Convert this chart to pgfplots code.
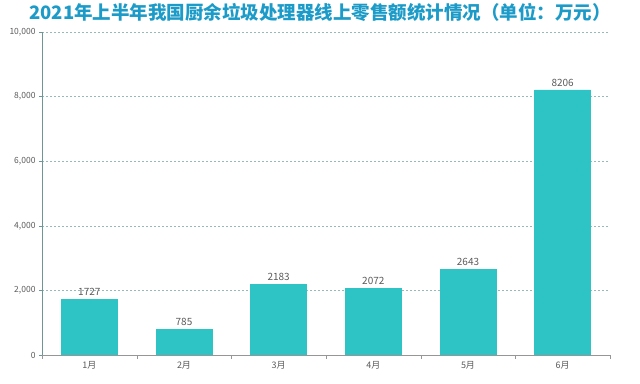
\documentclass[border=0pt]{standalone}
\usepackage{fontspec}
\setmainfont{Noto Sans CJK SC}
\usepackage{pgfplots}
\pgfplotsset{compat=1.18}
\definecolor{barc}{RGB}{46,196,198}
\definecolor{titlec}{RGB}{28,155,200}
\definecolor{gridc}{RGB}{150,185,185}
\definecolor{yaxc}{RGB}{110,150,150}
\definecolor{xaxc}{RGB}{150,150,150}
\definecolor{txtc}{RGB}{90,90,90}
\begin{document}
\begin{tikzpicture}[x=1pt,y=1pt]
\useasboundingbox (0,0) rectangle (640,383);
\node[font=\fontsize{18.5}{21}\selectfont\bfseries, text=titlec] at (320,371) {2021年上半年我国厨余垃圾处理器线上零售额统计情况（单位：万元）};
\begin{axis}[
  at={(42pt,28pt)}, anchor=south west,
  scale only axis, width=568pt, height=323pt,
  ybar, bar width=56pt,
  xmin=-0.5, xmax=5.5, ymin=0, ymax=10000,
  xtick={0,...,5},
  xticklabels={1月,2月,3月,4月,5月,6月},
  minor xtick={-0.5,0.5,...,5.5},
  major x tick style={draw=none},
  minor x tick style={xaxc},
  minor tick length=4pt,
  ytick={0,2000,...,10000},
  major tick length=3pt,
  tick align=outside,
  xtick pos=bottom, ytick pos=left,
  y tick style={yaxc},
  /pgf/number format/assume math mode=true,
  yticklabel style={/pgf/number format/1000 sep={,}, font=\fontsize{8.5}{10}\selectfont, text=txtc},
  xticklabel style={font=\fontsize{9}{10}\selectfont, text=txtc},
  scaled y ticks=false,
  ymajorgrids, grid style={gridc, dash pattern=on 2pt off 2pt, line width=0.5pt},
  axis x line*=bottom, axis y line*=left,
  x axis line style={xaxc, line width=0.8pt, -},
  y axis line style={yaxc, line width=0.8pt, -},
  nodes near coords,
  every node near coord/.append style={font=\fontsize{10}{11}\selectfont, text=txtc, /pgf/number format/assume math mode=true, /pgf/number format/1000 sep={}},
]
\addplot[fill=barc, draw=barc] coordinates {(0,1727) (1,785) (2,2183) (3,2072) (4,2643) (5,8206)};
\end{axis}
\end{tikzpicture}
\end{document}
